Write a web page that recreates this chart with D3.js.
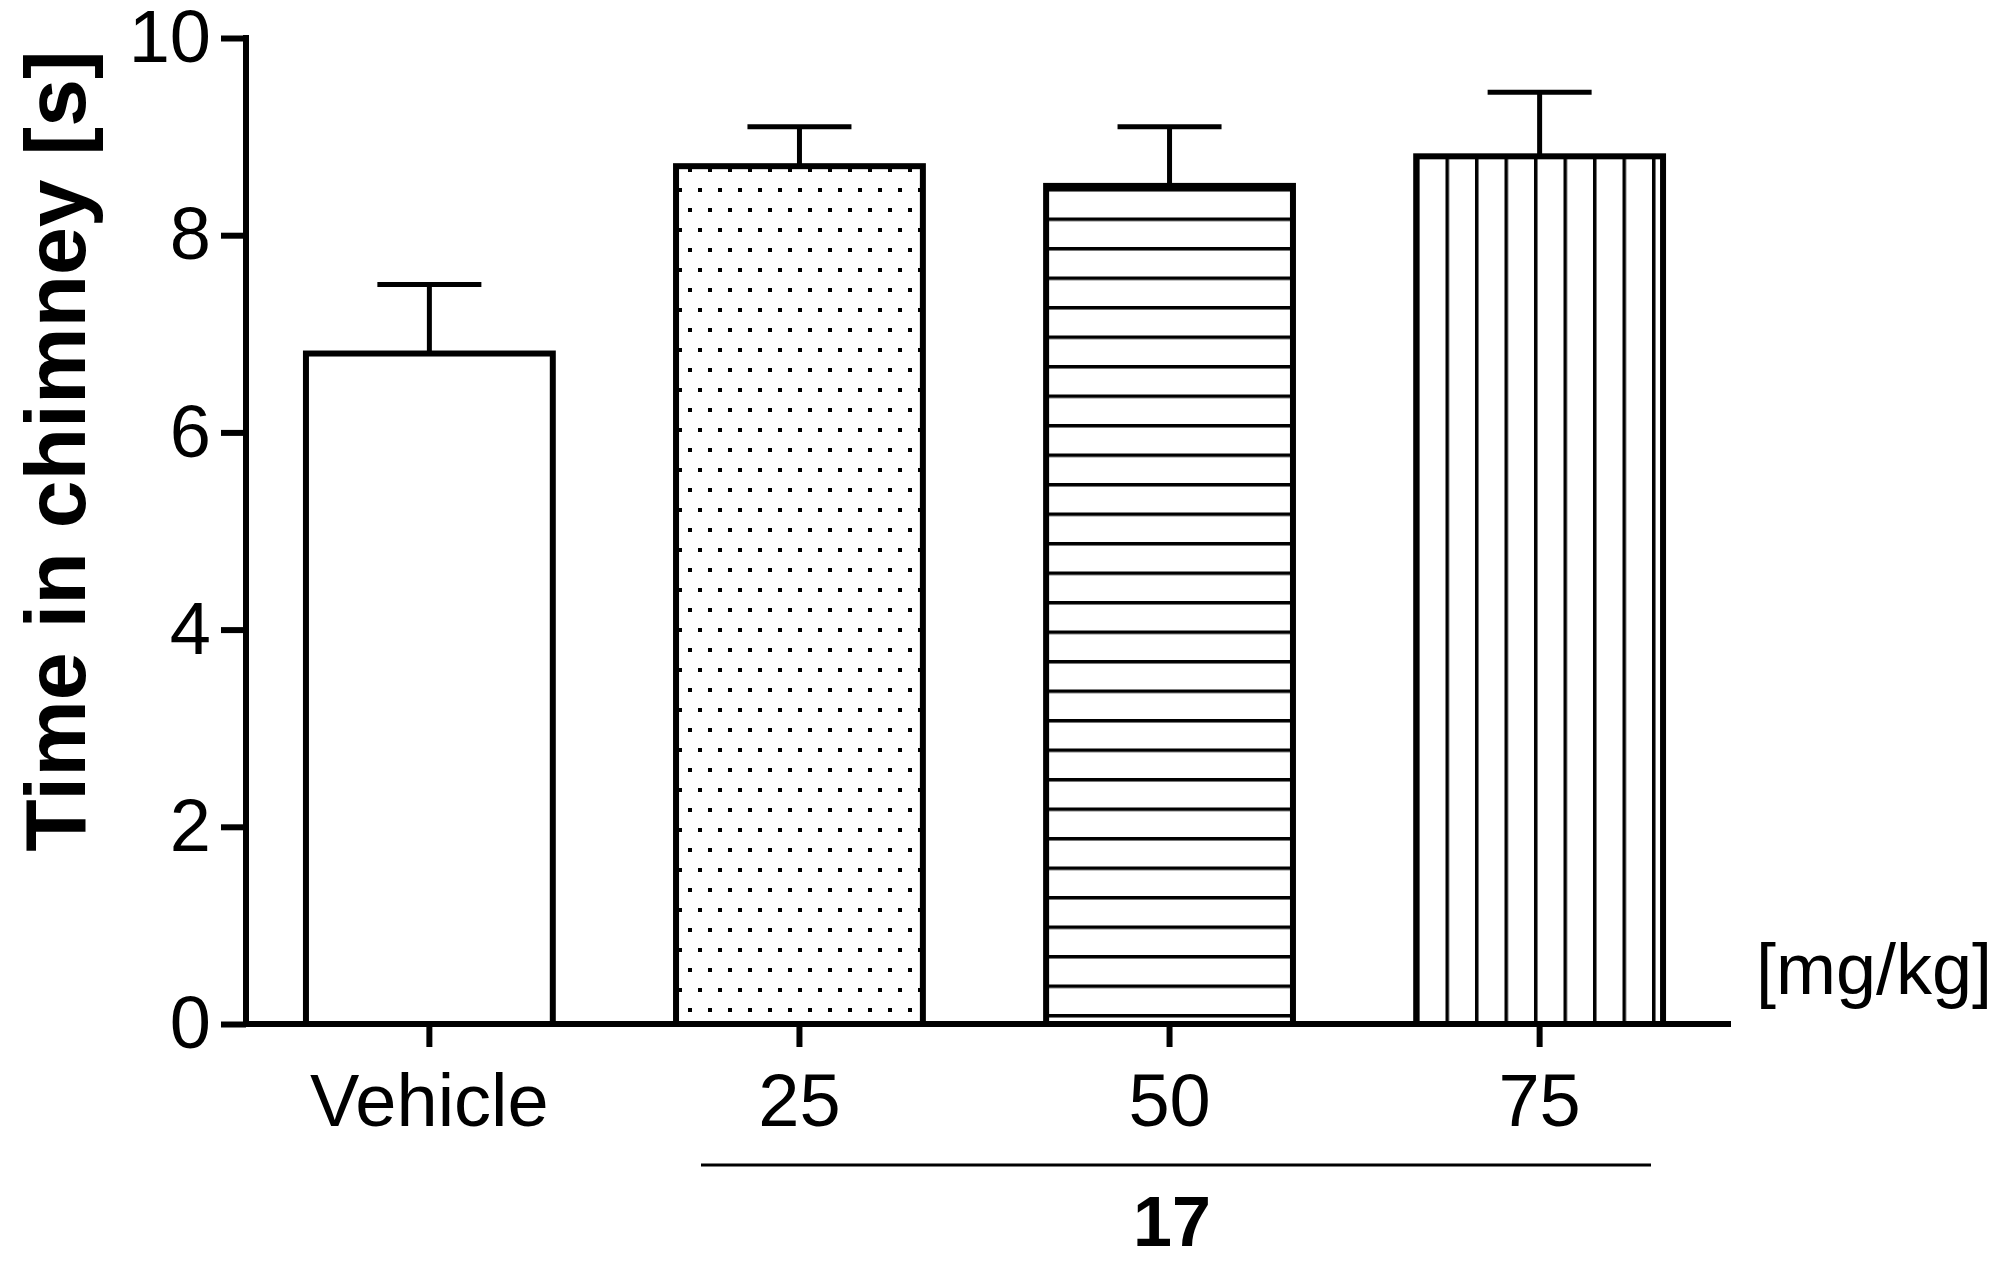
<!DOCTYPE html>
<html><head><meta charset="utf-8">
<script src="https://cdn.jsdelivr.net/npm/d3@7"></script>
<style>body{margin:0;background:#fff}text{font-family:"Liberation Sans",Arial,sans-serif}</style>
</head><body><div id="draw_svg"></div>
<script>
// chart values
const categories = ['Vehicle', '25', '50', '75'];
const means = [6.8, 8.7, 8.5, 8.8];
const errTops = [7.5, 9.1, 9.1, 9.45];
const patterns = ['none', 'dots', 'hlines', 'vlines'];
const yTicks = [0, 2, 4, 6, 8, 10];

const W = 2007, H = 1266;
const svg = d3.select('#draw_svg').append('svg').attr('width', W).attr('height', H);

const defs = svg.append('defs');
const pd = defs.append('pattern').attr('id', 'dots').attr('patternUnits', 'userSpaceOnUse')
  .attr('width', 20).attr('height', 40).attr('x', 676).attr('y', 0);
pd.append('rect').attr('x', 12).attr('y', 8).attr('width', 4).attr('height', 4).attr('fill', '#000');
pd.append('rect').attr('x', 2).attr('y', 28).attr('width', 4).attr('height', 4).attr('fill', '#000');
const ph = defs.append('pattern').attr('id', 'hlines').attr('patternUnits', 'userSpaceOnUse')
  .attr('width', 40).attr('height', 29.5).attr('y', 1014);
ph.append('rect').attr('x', 0).attr('y', 0).attr('width', 40).attr('height', 3.5).attr('fill', '#000');
const pv = defs.append('pattern').attr('id', 'vlines').attr('patternUnits', 'userSpaceOnUse')
  .attr('width', 29.5).attr('height', 40).attr('x', 1416);
pv.append('rect').attr('x', 0).attr('y', 0).attr('width', 3.5).attr('height', 40).attr('fill', '#000');

const x = d3.scaleBand().domain(categories).range([246, 1723]).paddingInner(0.333).paddingOuter(0.162);
const y = d3.scaleLinear().domain([0, 10]).range([1024, 38]);

// error bars (behind bars)
const eg = svg.append('g').attr('stroke', '#000').attr('stroke-width', 5);
categories.forEach((c, i) => {
  const cx = x(c) + x.bandwidth() / 2;
  eg.append('line').attr('x1', cx).attr('x2', cx).attr('y1', y(means[i])).attr('y2', y(errTops[i]));
  eg.append('line').attr('x1', cx - 52).attr('x2', cx + 52).attr('y1', y(errTops[i])).attr('y2', y(errTops[i]));
});

svg.selectAll('rect.bar').data(categories).enter().append('rect').attr('class', 'bar')
  .attr('x', d => x(d)).attr('width', x.bandwidth())
  .attr('y', (d, i) => y(means[i])).attr('height', (d, i) => y(0) - y(means[i]))
  .attr('fill', (d, i) => patterns[i] === 'none' ? '#fff' : `url(#${patterns[i]})`)
  .attr('stroke', '#000').attr('stroke-width', 6);

const fs = 74;
const ya = svg.append('g').attr('transform', 'translate(246,0)')
  .call(d3.axisLeft(y).tickValues(yTicks).tickSize(25).tickPadding(10));
const xa = svg.append('g').attr('transform', 'translate(0,1024)')
  .call(d3.axisBottom(x).tickSize(23).tickPadding(26));
[ya, xa].forEach(a => {
  a.selectAll('path,line').attr('stroke', '#000').attr('stroke-width', 6);
  a.select('path').attr('stroke-linecap', 'square');
  a.selectAll('text').attr('fill', '#000').style('font-size', fs + 'px');
});
ya.select('path').attr('d', 'M0,1024V38');
xa.select('path').attr('d', 'M246,0H1728');

svg.append('text').attr('transform', 'translate(85,451) rotate(-90)').attr('text-anchor', 'middle')
  .style('font-size', '86px').style('font-weight', 'bold').text('Time in chimney [s]');
svg.append('text').attr('x', 1992).attr('y', 994).attr('text-anchor', 'end')
  .style('font-size', '72px').text('[mg/kg]');
svg.append('line').attr('x1', 701).attr('x2', 1651).attr('y1', 1165).attr('y2', 1165)
  .attr('stroke', '#000').attr('stroke-width', 3);
svg.append('text').attr('x', 1172).attr('y', 1246).attr('text-anchor', 'middle')
  .style('font-size', '70px').style('font-weight', 'bold').text('17');
</script></body></html>
